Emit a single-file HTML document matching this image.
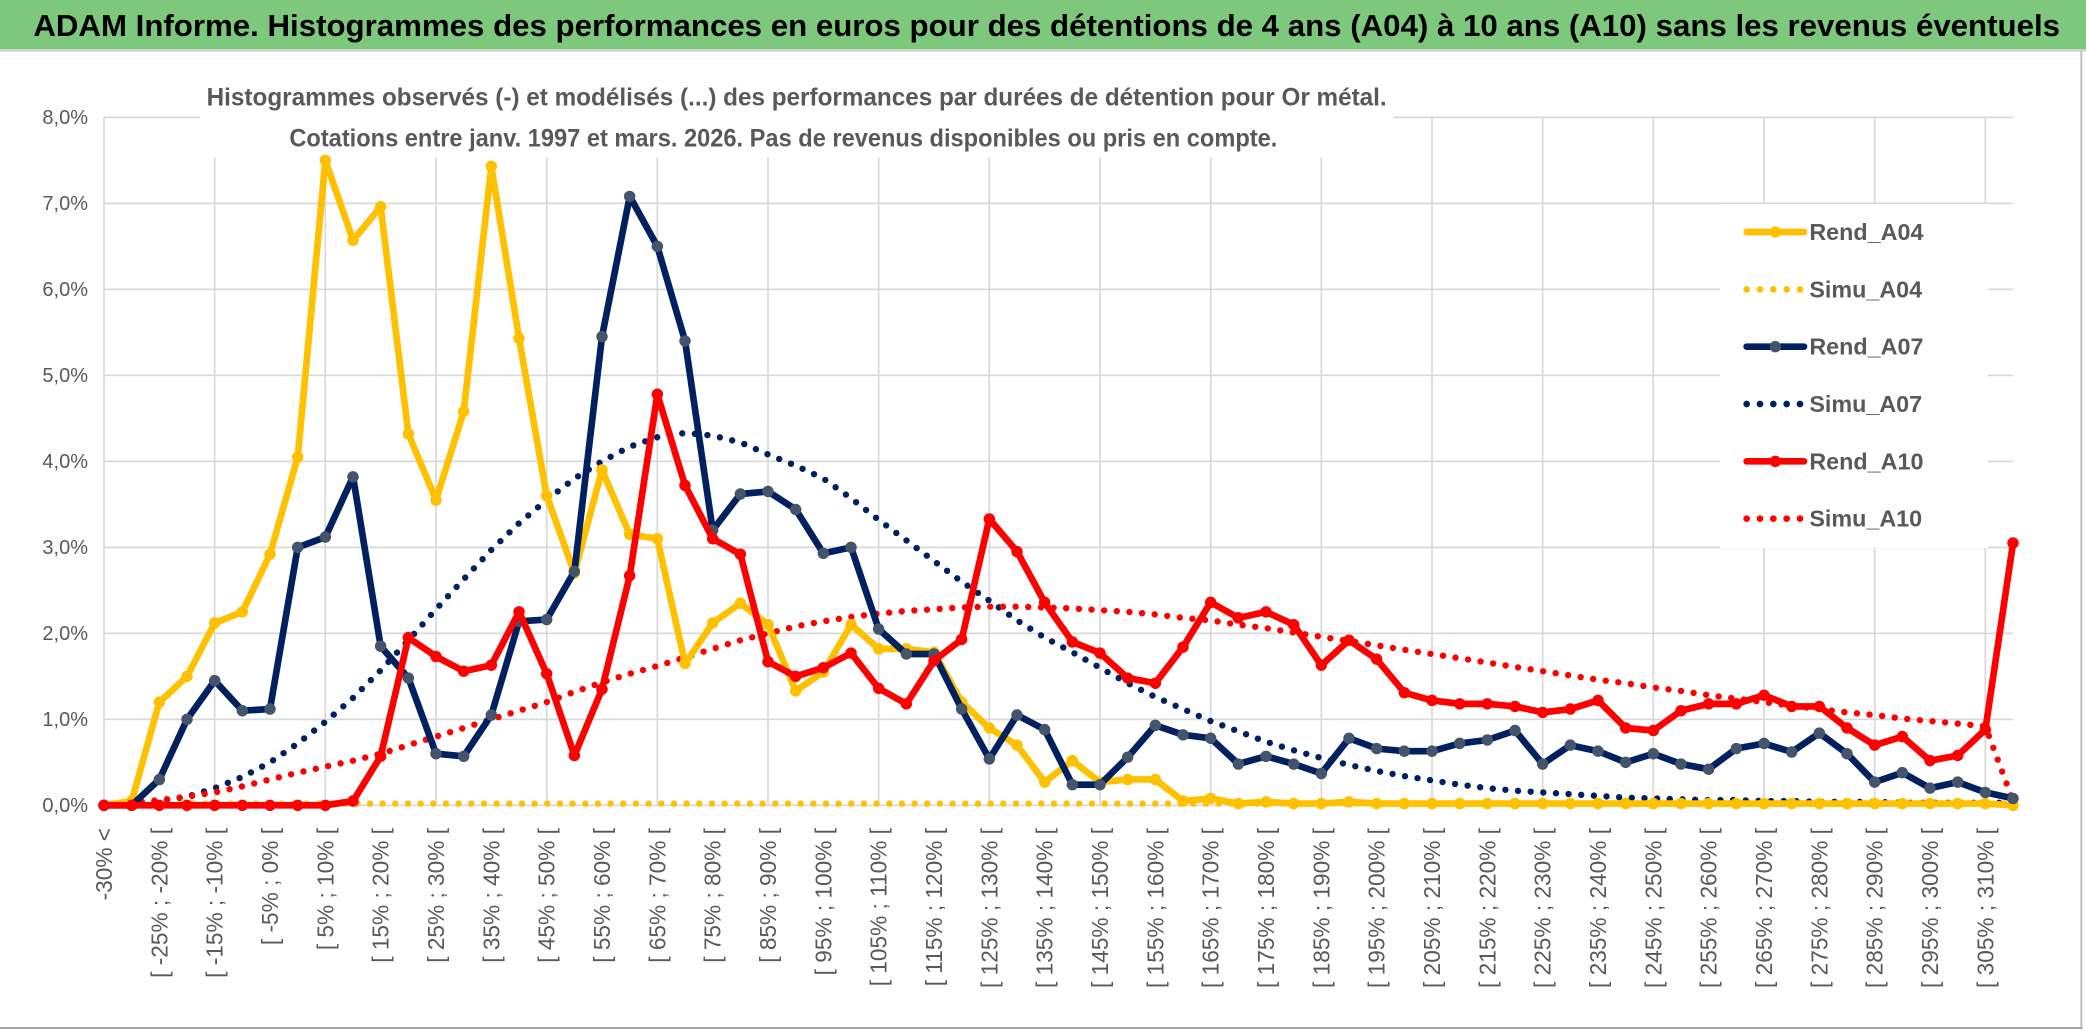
<!DOCTYPE html>
<html><head><meta charset="utf-8">
<style>
html,body{margin:0;padding:0;background:#fff;}
svg{display:block;font-family:"Liberation Sans",sans-serif;}
</style></head>
<body>
<svg id="chart" width="2086" height="1031" viewBox="0 0 1564.5 773.25" xmlns="http://www.w3.org/2000/svg">
  <rect x="0" y="0" width="1564.5" height="773.25" fill="#fff"/>
  <rect x="0" y="0" width="1564.5" height="37" fill="#7dc87d"/>
  <line x1="0" y1="38" x2="1564.5" y2="38" stroke="#d0d0d0" stroke-width="1.5"/>
  <text x="25" y="27" font-size="23" font-weight="bold" fill="#000" textLength="1520" lengthAdjust="spacingAndGlyphs">ADAM Informe. Histogrammes des performances en euros pour des détentions de 4 ans (A04) à 10 ans (A10) sans les revenus éventuels</text>
  <line x1="1561" y1="38" x2="1561" y2="771" stroke="#bfbfbf" stroke-width="1.5"/>
  <line x1="0" y1="771" x2="1562" y2="771" stroke="#a6a6a6" stroke-width="1.5"/>
  <g id="grid"></g>
  <rect x="150" y="50" width="895" height="68" fill="#fff"/>
  <text x="155" y="79" font-size="18.5" font-weight="bold" fill="#595959" textLength="885" lengthAdjust="spacingAndGlyphs">Histogrammes observés (-) et modélisés (...) des performances par durées de détention pour Or métal.</text>
  <text x="217" y="110" font-size="18.5" font-weight="bold" fill="#595959" textLength="741" lengthAdjust="spacingAndGlyphs">Cotations entre janv. 1997 et mars. 2026. Pas de revenus disponibles ou pris en compte.</text>
  <g id="series"></g>
  <rect x="1290" y="153" width="201" height="258" fill="#fff"/>
  <g id="legend"></g>
</svg>
<script>
const categories = (function(){const c=["-30% <"];for(let i=1;i<70;i++){const lo=-30+5*(i-1);c.push("[ "+lo+"% ; "+(lo+5)+"% [");}return c;})();
const yTicks = [0,1,2,3,4,5,6,7,8];
const yTickLabels = ["0,0%","1,0%","2,0%","3,0%","4,0%","5,0%","6,0%","7,0%","8,0%"];
const seriesNames = ["Rend_A04","Simu_A04","Rend_A07","Simu_A07","Rend_A10","Simu_A10"];
const rendA04 = [0,0.05,1.2,1.5,2.12,2.25,2.92,4.05,7.5,6.57,6.96,4.32,3.55,4.58,7.43,5.43,3.6,2.7,3.9,3.15,3.1,1.65,2.12,2.35,2.1,1.33,1.55,2.1,1.82,1.82,1.78,1.2,0.9,0.7,0.27,0.52,0.27,0.3,0.3,0.05,0.08,0.02,0.04,0.02,0.02,0.04,0.02,0.02,0.02,0.02,0.02,0.02,0.02,0.02,0.02,0.02,0.02,0.02,0.02,0.02,0.02,0.02,0.02,0.02,0.02,0.02,0.02,0.02,0.02,0];
const simuA04 = [0,0.02,0.02,0.02,0.02,0.02,0.02,0.02,0.02,0.02,0.02,0.02,0.02,0.02,0.02,0.02,0.02,0.02,0.02,0.02,0.02,0.02,0.02,0.02,0.02,0.02,0.02,0.02,0.02,0.02,0.02,0.02,0.02,0.02,0.02,0.02,0.02,0.02,0.02,0.02,0.02,0.02,0.02,0.02,0.02,0.02,0.02,0.02,0.02,0.02,0.02,0.02,0.02,0.02,0.02,0.02,0.02,0.02,0.02,0.02,0.02,0.02,0.02,0.02,0.02,0.02,0.02,0.02,0.02,0.02];
const rendA07 = [0,0,0.3,1.0,1.45,1.1,1.12,3.0,3.12,3.82,1.85,1.48,0.6,0.57,1.05,2.14,2.16,2.72,5.45,7.08,6.5,5.4,3.2,3.62,3.65,3.44,2.93,3.0,2.05,1.76,1.76,1.12,0.54,1.05,0.88,0.24,0.24,0.56,0.93,0.82,0.78,0.48,0.57,0.48,0.37,0.78,0.66,0.63,0.63,0.72,0.76,0.87,0.48,0.7,0.63,0.5,0.6,0.48,0.42,0.66,0.72,0.62,0.84,0.6,0.27,0.38,0.2,0.27,0.15,0.08];
const simuA07 = [0,0.02,0.05,0.1,0.2,0.33,0.5,0.72,0.97,1.25,1.57,1.92,2.28,2.63,2.97,3.28,3.55,3.8,4.0,4.17,4.28,4.33,4.3,4.22,4.08,3.95,3.8,3.57,3.32,3.08,2.84,2.6,2.38,2.15,1.95,1.78,1.6,1.42,1.26,1.12,0.98,0.86,0.74,0.64,0.55,0.47,0.4,0.34,0.29,0.24,0.2,0.17,0.15,0.13,0.11,0.09,0.08,0.07,0.06,0.06,0.05,0.05,0.04,0.04,0.04,0.03,0.03,0.03,0.03,0.03];
const rendA10 = [0,0,0,0,0,0,0,0,0,0.05,0.57,1.95,1.73,1.56,1.63,2.25,1.53,0.58,1.35,2.67,4.78,3.72,3.1,2.92,1.67,1.5,1.6,1.77,1.36,1.18,1.68,1.93,3.33,2.95,2.36,1.9,1.77,1.48,1.42,1.84,2.36,2.18,2.25,2.1,1.63,1.92,1.7,1.31,1.22,1.18,1.18,1.15,1.08,1.12,1.22,0.9,0.87,1.1,1.18,1.18,1.28,1.15,1.15,0.9,0.7,0.8,0.52,0.58,0.88,3.05];
const simuA10 = [0,0.03,0.06,0.1,0.15,0.22,0.3,0.38,0.45,0.52,0.6,0.7,0.8,0.9,1.0,1.1,1.2,1.32,1.43,1.53,1.62,1.72,1.82,1.92,2.0,2.08,2.14,2.19,2.23,2.26,2.28,2.3,2.31,2.31,2.3,2.29,2.27,2.25,2.22,2.18,2.15,2.1,2.06,2.01,1.96,1.91,1.86,1.81,1.76,1.71,1.66,1.61,1.56,1.51,1.46,1.42,1.37,1.33,1.28,1.24,1.2,1.16,1.12,1.08,1.05,1.01,0.98,0.95,0.92,0.05];

const NS="http://www.w3.org/2000/svg";
const X0=78, STEP=20.75, Y0=604, YU=64.5, XEND=X0+69*STEP;
function xs(i){return X0+i*STEP;}
function ys(v){return Y0-v*YU;}
function mk(tag,attrs,parent){const e=document.createElementNS(NS,tag);for(const k in attrs)e.setAttribute(k,attrs[k]);parent.appendChild(e);return e;}
const grid=document.getElementById('grid');
yTicks.forEach((t,k)=>{
  const l=mk('line',{x1:X0,x2:XEND,y1:ys(t),y2:ys(t),stroke:'#d9d9d9','stroke-width':1.3},grid);
  
  
  const tx=mk('text',{x:66,y:ys(t)+5,'text-anchor':'end','font-size':15,fill:'#595959'},grid);
  
  
  tx.textContent=yTickLabels[k];
});
for(let i=0;i<categories.length;i+=4){
  const l=mk('line',{x1:xs(i),x2:xs(i),y1:ys(8),y2:Y0,stroke:'#d9d9d9','stroke-width':1.3},grid);
  
  
}
for(let i=0;i<categories.length;i+=2){
  const x=xs(i)+6, y=621;
  const tx=mk('text',{x:x,y:y,'text-anchor':'end','font-size':17,fill:'#595959',transform:'rotate(-90 '+x+' '+y+')'},grid);
  
  
  tx.textContent=categories[i];
}
const seriesData=[rendA04,simuA04,rendA07,simuA07,rendA10,simuA10];
const colors=['#ffc000','#ffc000','#002060','#002060','#ff0000','#ff0000'];
const markerColors=['#ffc000',null,'#44546a',null,'#ff0000',null];
const sg=document.getElementById('series');
const order=[1,3,5,0,2,4];
order.forEach(s=>{
  const d=seriesData[s];
  const pts=d.map((v,i)=>xs(i).toFixed(1)+','+ys(v).toFixed(1)).join(' ');
  const dotted=(s%2===1);
  const g=mk('g',{},sg);
  
  
  const pl=mk('polyline',{points:pts,fill:'none',stroke:colors[s],'stroke-width':dotted?4.8:5,'stroke-linejoin':'round','stroke-linecap':'round'},g);
  if(dotted){pl.setAttribute('stroke-dasharray','0 9.5');}
  
  
  if(!dotted){
    d.forEach((v,i)=>{
      const c=mk('circle',{cx:xs(i),cy:ys(v),r:4.3,fill:markerColors[s]},g);
      
      
    });
  }
});
const lg=document.getElementById('legend');
seriesNames.forEach((n,k)=>{
  const y=174+k*43;
  const g=mk('g',{},lg);
  
  
  const dotted=(k%2===1);
  const l=mk('line',{x1:1310,x2:1353,y1:y,y2:y,stroke:colors[k],'stroke-width':5,'stroke-linecap':'round'},g);
  if(dotted)l.setAttribute('stroke-dasharray','0 10');
  if(!dotted)mk('circle',{cx:1331.5,cy:y,r:4.3,fill:markerColors[k]},g);
  const t=mk('text',{x:1357,y:y+6,'font-size':17.5,'font-weight':'bold',fill:'#595959'},g);
  t.textContent=n;
});
</script>
</body></html>
